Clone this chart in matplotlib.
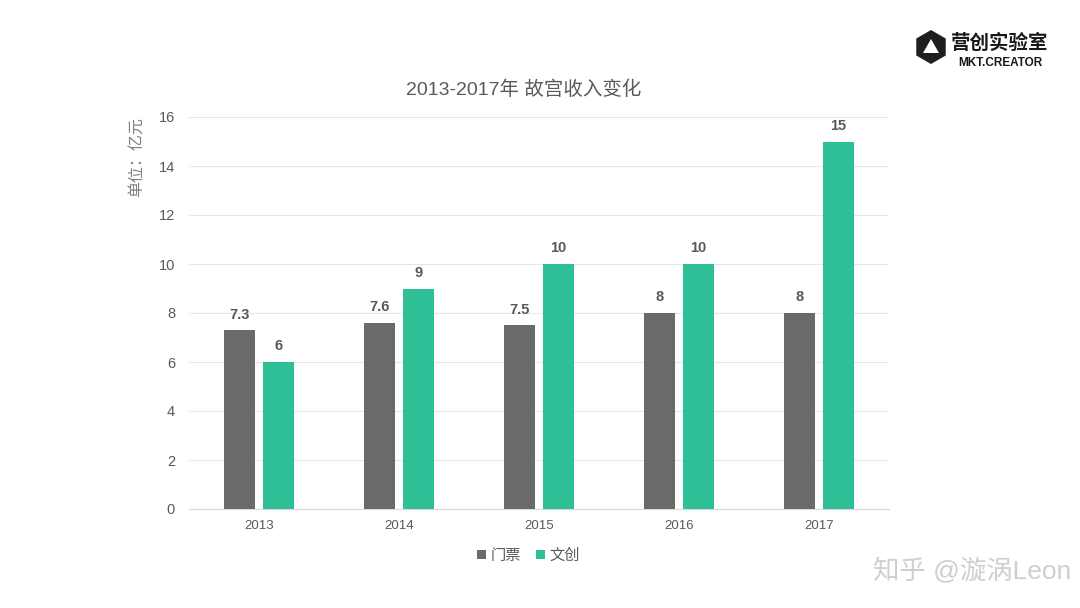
import matplotlib
matplotlib.use("Agg")
import matplotlib.pyplot as plt
import numpy as np
from matplotlib.patches import RegularPolygon, Polygon

plt.rcParams['font.family'] = ['Liberation Sans', 'Noto Sans CJK SC', 'DejaVu Sans']

years = ['2013', '2014', '2015', '2016', '2017']
tickets = [7.3, 7.6, 7.5, 8, 8]
creative = [6, 9, 10, 10, 15]
ticket_labels = ['7.3', '7.6', '7.5', '8', '8']
creative_labels = ['6', '9', '10', '10', '15']
series_names = ['门票', '文创']
title = '2013-2017年 故宫收入变化'
ylabel = '单位：亿元'

gray = '#6a6a6a'
teal = '#2fbf97'
txt = '#595959'

fig = plt.figure(figsize=(10.8, 6.08), dpi=100)
fig.patch.set_facecolor('white')

ax = fig.add_axes([189/1080, 99/608, 700/1080, 392/608])
ax.set_facecolor('none')
x = np.arange(len(years))
w = 0.22
off = 0.14
b1 = ax.bar(x - off, tickets, w, color=gray, label=series_names[0], zorder=3)
b2 = ax.bar(x + off, creative, w, color=teal, label=series_names[1], zorder=3)
for rect, lab in zip(b1, ticket_labels):
    ax.text(rect.get_x() + rect.get_width()/2, rect.get_height() + 0.35, lab,
            ha='center', va='bottom', fontsize=10.5, fontweight='bold', color=txt)
for rect, lab in zip(b2, creative_labels):
    ax.text(rect.get_x() + rect.get_width()/2, rect.get_height() + 0.35, lab,
            ha='center', va='bottom', fontsize=10.5, fontweight='bold', color=txt)

ax.set_xlim(-0.5, len(years) - 0.5)
ax.set_ylim(0, 16)
ax.set_yticks(range(0, 17, 2))
ax.set_xticks(x)
ax.set_xticklabels(years)
ax.grid(axis='y', color='#e6e6e6', linewidth=0.8, zorder=0)
for s in ['top', 'right', 'left']:
    ax.spines[s].set_visible(False)
ax.spines['bottom'].set_color('#d9d9d9')
ax.tick_params(axis='both', length=0, colors=txt, labelsize=10.5)
ax.tick_params(axis='y', pad=10)
ax.tick_params(axis='x', pad=8)
for lab in ax.get_xticklabels():
    lab.set_fontsize(9.5)

fig.text(136/1080, 1 - 157/608, ylabel, rotation=90, ha='center', va='center',
         fontsize=11.5, color='#7f7f7f')
fig.text(524/1080, 1 - 90/608, title, ha='center', va='center', fontsize=14, color=txt)

leg = ax.legend(loc='upper center', bbox_to_anchor=(0.485, -0.065), ncol=2, frameon=False,
                fontsize=11, handlelength=0.55, handleheight=0.55, handletextpad=0.3,
                columnspacing=1.0, labelcolor=txt)

# logo top right (in inches via dpi_scale_trans)
cx, cy = 9.31, (608 - 47) / 100
fig.patches.append(RegularPolygon((cx, cy), numVertices=6, radius=0.17,
                                  orientation=0, transform=fig.dpi_scale_trans,
                                  facecolor='#1f1f1f', edgecolor='none'))
fig.patches.append(Polygon([(cx - 0.08, cy - 0.06), (cx + 0.08, cy - 0.06), (cx, cy + 0.08)],
                           closed=True, transform=fig.dpi_scale_trans,
                           facecolor='white', edgecolor='none'))
fig.text(1000/1080, 1 - 43/608, '营创实验室', fontsize=14, fontweight='bold',
         color='#1a1a1a', ha='center', va='center')
fig.text(1000/1080, 1 - 63/608, 'MKT.CREATOR', fontsize=8.5, fontweight='bold',
         color='#1a1a1a', ha='center', va='center')

# bottom-right watermark
fig.text(873/1080, 1 - 571/608, '知乎 @漩涡Leon', fontsize=19, color='#cfcfcf',
         ha='left', va='center')

fig.savefig('out.png', dpi=100, facecolor='white')
